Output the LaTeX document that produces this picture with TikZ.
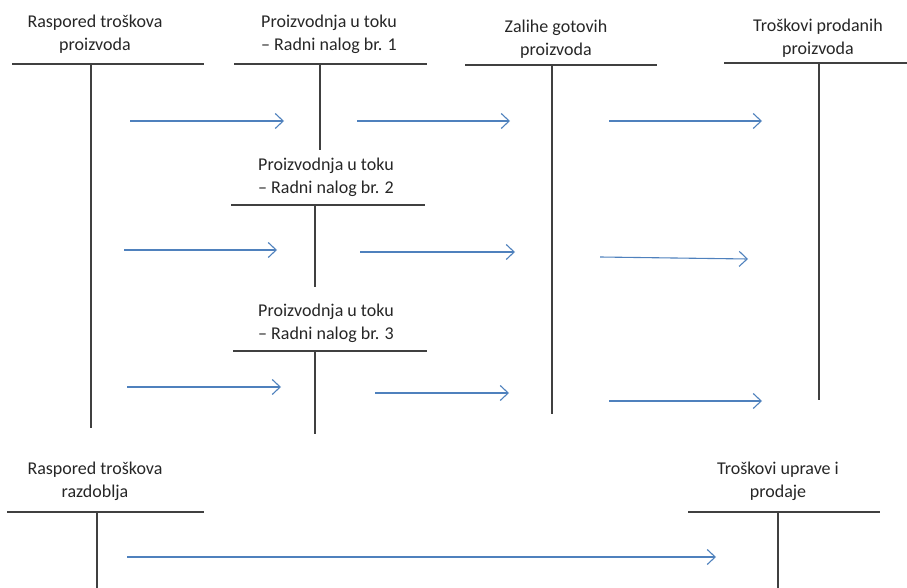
\documentclass[tikz,border=0pt]{standalone}
\usepackage{fontspec}
\setmainfont{Carlito}
\usetikzlibrary{arrows.meta, positioning}
\definecolor{blueLine}{RGB}{79,129,189}
\tikzstyle{accName} = [align=center, font=\fontsize{18}{23}\selectfont, text=black!85, inner sep=0pt]
\tikzstyle{accLine} = [line width=1.4pt, draw=black!75]
\tikzstyle{arrowB} = [line width=1.1pt, -{Straight Barb[length=8pt,width=15pt]}, draw=blueLine]

\begin{document}
\begin{tikzpicture}[x=1pt, y=-1pt]
        \useasboundingbox (0,0) rectangle (907,588);
        % account names
        \node (rtp) [accName] at (95,34) {Raspored troškova\\proizvoda};
        \node (pu1) [accName] at (329,34) {Proizvodnja u toku\\– Radni nalog br. 1};
        \node (zgp) [accName] at (556,39) {Zalihe gotovih\\proizvoda};
        \node (tpp) [accName] at (818,38) {Troškovi prodanih\\proizvoda};
        \node (pu2) [accName] at (326,177) {Proizvodnja u toku\\– Radni nalog br. 2};
        \node (pu3) [accName] at (326,323) {Proizvodnja u toku\\– Radni nalog br. 3};
        \node (rtr) [accName] at (95,481) {Raspored troškova\\razdoblja};
        \node (tup) [accName] at (778,481) {Troškovi uprave i\\prodaje};

        % T accounts
        \draw [accLine] (12,64) -- (204,64) (91,64) -- (91,428);
        \draw [accLine] (234,64) -- (427,64) (320,64) -- (320,150);
        \draw [accLine] (465,65) -- (657,65) (552,65) -- (552,414);
        \draw [accLine] (724,63) -- (907,63) (819,63) -- (819,400);
        \draw [accLine] (231,205) -- (425,205) (315,205) -- (315,287);
        \draw [accLine] (233,351) -- (427,351) (315,351) -- (315,434);
        \draw [accLine] (7,512) -- (204,512) (97,512) -- (97,588);
        \draw [accLine] (688,512) -- (880,512) (778,512) -- (778,588);

        % arrow ends
        \coordinate (a1) at (130,121);  \coordinate (b1) at (284,121);
        \coordinate (a2) at (357,121);  \coordinate (b2) at (510,121);
        \coordinate (a3) at (609,121);  \coordinate (b3) at (762,121);
        \coordinate (a4) at (124,250);  \coordinate (b4) at (277,250);
        \coordinate (a5) at (360,252);  \coordinate (b5) at (515,252);
        \coordinate (a6) at (600,257);  \coordinate (b6) at (748,259);
        \coordinate (a7) at (127,387);  \coordinate (b7) at (281,387);
        \coordinate (a8) at (375,393);  \coordinate (b8) at (509,393);
        \coordinate (a9) at (609,401);  \coordinate (b9) at (762,401);
        \coordinate (a10) at (127,557); \coordinate (b10) at (716,557);

        \foreach \i in {1,...,10}
            \draw [arrowB] (a\i) -- (b\i);
\end{tikzpicture}
\end{document}
